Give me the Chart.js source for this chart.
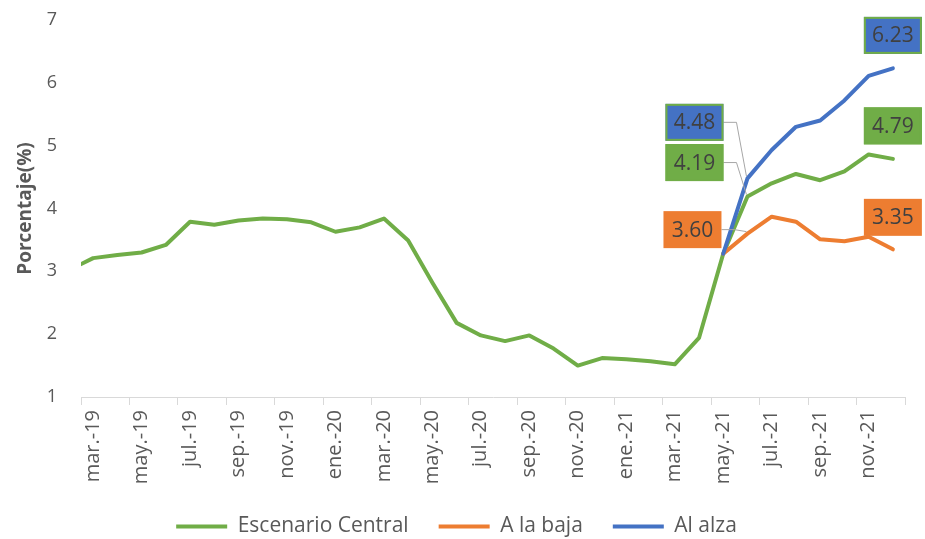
<!DOCTYPE html>
<html>
<head>
<meta charset="utf-8">
<script src="https://cdn.jsdelivr.net/npm/chart.js@4.4.0/dist/chart.umd.min.js"></script>
<style>
  html, body { margin: 0; padding: 0; background: #fff; }
  #contenedor { width: 925px; height: 539px; }
</style>
</head>
<body>
<div id="contenedor"><canvas id="grafico"></canvas></div>
<script>
// meses (el primero queda fuera del área visible, como en el original)
const meses = [
  'feb.-19', 'mar.-19', 'abr.-19', 'may.-19', 'jun.-19', 'jul.-19', 'ago.-19', 'sep.-19', 'oct.-19', 'nov.-19', 'dic.-19',
  'ene.-20', 'feb.-20', 'mar.-20', 'abr.-20', 'may.-20', 'jun.-20', 'jul.-20', 'ago.-20', 'sep.-20', 'oct.-20', 'nov.-20', 'dic.-20',
  'ene.-21', 'feb.-21', 'mar.-21', 'abr.-21', 'may.-21', 'jun.-21', 'jul.-21', 'ago.-21', 'sep.-21', 'oct.-21', 'nov.-21', 'dic.-21'
];
const escenarioCentral = [
  3.02, 3.21, 3.26, 3.30, 3.42, 3.79, 3.74, 3.81, 3.84, 3.83, 3.78,
  3.63, 3.70, 3.84, 3.49, 2.82, 2.18, 1.98, 1.89, 1.98, 1.77, 1.50, 1.62,
  1.60, 1.57, 1.52, 1.94, 3.28, 4.19, 4.40, 4.55, 4.45, 4.59, 4.86, 4.79
];
// escenarios alternativos, desde may.-21
const inicioEscenarios = 'may.-21';
const aLaBaja = [3.28, 3.60, 3.87, 3.79, 3.51, 3.48, 3.55, 3.35];
const alAlza  = [3.28, 4.48, 4.93, 5.30, 5.40, 5.72, 6.11, 6.23];
const valoresEje = [1, 2, 3, 4, 5, 6, 7];

const verde = '#70AD47', naranja = '#ED7D31', azul = '#4472C4';
const gris = '#595959';

// completa con null hasta el inicio del escenario
function Completar(serie){
  var ini = meses.indexOf(inicioEscenarios);
  var out = [];
  for (var i = 0; i < meses.length; i++) {
    out.push(i < ini ? null : serie[i - ini]);
  }
  return out;
}
function APuntos(serie){
  return serie.map((v, i) => ({x: i, y: v}));
}

// etiquetas de datos con caja (desplazamientos en px respecto al punto)
const cajas = [
  {ds: 2, mes: 'jun.-21', dx: -53, dy: -56, borde: verde, guia: true},
  {ds: 0, mes: 'jun.-21', dx: -53, dy: -34, borde: verde, guia: true},
  {ds: 1, mes: 'jun.-21', dx: -55, dy: -4, borde: null, guia: true},
  {ds: 2, mes: 'dic.-21', dx: 0, dy: -33, borde: verde, guia: false},
  {ds: 0, mes: 'dic.-21', dx: 0, dy: -33, borde: verde, guia: false},
  {ds: 1, mes: 'dic.-21', dx: 0, dy: -32, borde: null, guia: false}
];

const pluginCajas = {
  id: 'cajas',
  afterDatasetsDraw(chart){
    const ctx = chart.ctx;
    const xs = chart.scales.x, ys = chart.scales.y;
    const w = 58, h = 37;
    cajas.forEach(c => {
      const ds = chart.data.datasets[c.ds];
      const idx = meses.indexOf(c.mes);
      const v = ds.data[idx].y;
      const px = xs.getPixelForValue(idx), py = ys.getPixelForValue(v);
      const cx = px + c.dx, cy = py + c.dy;
      ctx.save();
      if (c.guia) {
        ctx.strokeStyle = '#A6A6A6';
        ctx.lineWidth = 1;
        ctx.beginPath();
        ctx.moveTo(cx + w / 2, cy);
        ctx.lineTo(cx + w / 2 + 13, cy);
        ctx.lineTo(px - 1, py - 2);
        ctx.stroke();
      }
      ctx.fillStyle = ds.borderColor;
      ctx.fillRect(cx - w / 2, cy - h / 2, w, h);
      if (c.borde) {
        ctx.strokeStyle = c.borde;
        ctx.lineWidth = 2;
        ctx.strokeRect(cx - w / 2 + 1, cy - h / 2 + 1, w - 2, h - 2);
      }
      ctx.fillStyle = '#404040';
      ctx.font = '21px "Open Sans", sans-serif';
      ctx.textAlign = 'center';
      ctx.textBaseline = 'middle';
      ctx.fillText(v.toFixed(2), cx, cy + 1);
      ctx.restore();
    });
  }
};

const fuente = '"Open Sans", sans-serif';

new Chart(document.getElementById('grafico'), {
  type: 'line',
  data: {
    datasets: [
      {label: 'Escenario Central', data: APuntos(escenarioCentral), borderColor: verde, backgroundColor: verde, order: 3},
      {label: 'A la baja', data: APuntos(Completar(aLaBaja)), borderColor: naranja, backgroundColor: naranja, order: 2},
      {label: 'Al alza', data: APuntos(Completar(alAlza)), borderColor: azul, backgroundColor: azul, order: 1}
    ]
  },
  options: {
    responsive: true,
    maintainAspectRatio: false,
    animation: false,
    layout: {padding: {left: 8, right: 20, top: 20, bottom: -8}},
    elements: {
      line: {borderWidth: 4, tension: 0, borderCapStyle: 'round', borderJoinStyle: 'round'},
      point: {radius: 0, hoverRadius: 0}
    },
    scales: {
      x: {
        type: 'linear',
        min: 0.5,
        max: 34.5,
        afterBuildTicks: s => {
          s.ticks = [];
          for (var v = 0.5; v <= 34.5; v += 2) s.ticks.push({value: v});
        },
        afterFit: s => { s.height = 89; s.paddingLeft = 0; s.paddingRight = 0; },
        ticks: {
          autoSkip: false,
          minRotation: 90,
          maxRotation: 90,
          labelOffset: 12,
          padding: 5,
          color: gris,
          font: {family: fuente, size: 20},
          callback: v => meses[v + 0.5] || ''
        },
        grid: {drawOnChartArea: false, drawTicks: true, tickLength: 8, color: '#D9D9D9'},
        border: {color: '#D9D9D9', width: 1}
      },
      y: {
        min: 1,
        max: 7,
        afterBuildTicks: s => { s.ticks = valoresEje.map(v => ({value: v})); },
        afterFit: s => { s.width = 73; s.paddingTop = 0; s.paddingBottom = 0; },
        ticks: {color: gris, padding: 16, font: {family: fuente, size: 18}},
        grid: {display: false},
        border: {display: false},
        title: {display: true, text: 'Porcentaje(%)', color: gris, padding: 6, font: {family: fuente, size: 19, weight: 'bold'}}
      }
    },
    plugins: {
      legend: {
        position: 'bottom',
        labels: {
          boxWidth: 51,
          boxHeight: 4,
          padding: 30,
          color: gris,
          font: {family: fuente, size: 21},
          sort: (a, b) => a.datasetIndex - b.datasetIndex,
          generateLabels: ch => ch.data.datasets.map((d, i) => ({
            text: d.label, fillStyle: d.borderColor, strokeStyle: d.borderColor, lineWidth: 0, datasetIndex: i, fontColor: gris
          }))
        }
      },
      tooltip: {enabled: false}
    }
  },
  plugins: [pluginCajas]
});
</script>
</body>
</html>
